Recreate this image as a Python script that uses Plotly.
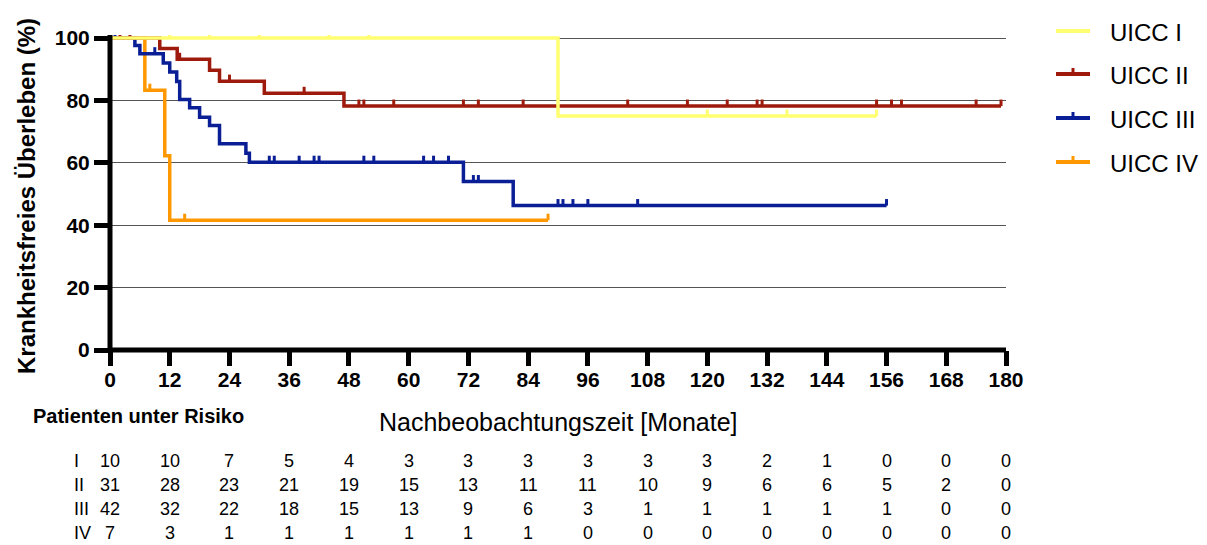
import plotly.graph_objects as go

# ---------------- data ----------------
groups = ["UICC I", "UICC II", "UICC III", "UICC IV"]
row_labels = ["I", "II", "III", "IV"]
colors = ["#FFFF70", "#9E1A0C", "#0A1E96", "#FF9800"]

# event times (months) and survival (%) after each event
events_I = [90]
surv_I = [75.0]
end_I = 154
censor_I = [12, 20, 30, 44, 52, 120, 136, 154]

events_II = [10, 13.5, 20, 22, 31, 47]
surv_II = [96.7, 93.2, 89.7, 86.2, 82.3, 78.2]
end_II = 179
censor_II = [2, 4, 14, 24, 39, 50, 51, 57, 71, 74, 83, 104, 116, 124, 130, 131,
             154, 157, 159, 174, 179]

events_III = [5, 6, 10.7, 12, 13.4, 14, 16, 18, 20, 22, 27.3, 28, 71, 81]
surv_III = [97.6, 95.0, 92.0, 89.1, 86.1, 80.3, 77.7, 74.6, 72.0, 66.1, 63.1, 60.2, 54.0, 46.3]
end_III = 156
censor_III = [1, 9, 32, 33, 38, 41, 42, 51, 53, 63, 65, 68, 73, 74, 90, 91, 93, 96, 106, 156]

events_IV = [7, 11, 12]
surv_IV = [83.3, 62.3, 41.6]
end_IV = 88
censor_IV = [8, 15, 88]

risk_times = [0, 12, 24, 36, 48, 60, 72, 84, 96, 108, 120, 132, 144, 156, 168, 180]
risk_I = [10, 10, 7, 5, 4, 3, 3, 3, 3, 3, 3, 2, 1, 0, 0, 0]
risk_II = [31, 28, 23, 21, 19, 15, 13, 11, 11, 10, 9, 6, 6, 5, 2, 0]
risk_III = [42, 32, 22, 18, 15, 13, 9, 6, 3, 1, 1, 1, 1, 1, 0, 0]
risk_IV = [7, 3, 1, 1, 1, 1, 1, 1, 0, 0, 0, 0, 0, 0, 0, 0]

y_ticks = [0, 20, 40, 60, 80, 100]
x_ticks = list(range(0, 181, 12))

series = [
    (events_I, surv_I, end_I, censor_I),
    (events_II, surv_II, end_II, censor_II),
    (events_III, surv_III, end_III, censor_III),
    (events_IV, surv_IV, end_IV, censor_IV),
]
risks = [risk_I, risk_II, risk_III, risk_IV]

FONT = "Liberation Sans, Arial, Helvetica, sans-serif"
W, H = 1207, 545
L, R, T, B = 110, 201, 35, 195
PW, PH = W - L - R, H - T - B
TICK_H = 2.1  # censor tick height in %


def px(x):
    return (x - L) / PW


def py(y):
    return (H - B - y) / PH


def surv_at(t, ev, sv):
    s = 100.0
    for e, v in zip(ev, sv):
        if t >= e:
            s = v
    return s


fig = go.Figure()

# draw IV, III, II, I so that I is on top
for i in [3, 2, 1, 0]:
    ev, sv, end, cens = series[i]
    xs = [0] + ev + [end]
    ys = [100.0] + sv + [sv[-1]]
    fig.add_trace(go.Scatter(x=xs, y=ys, mode="lines", line=dict(color=colors[i], width=3.5, shape="hv"),
                             showlegend=False, hoverinfo="skip"))
    cx, cy = [], []
    for c in cens:
        s = surv_at(c, ev, sv)
        cx += [c, c, None]
        cy += [s, s + TICK_H, None]
    fig.add_trace(go.Scatter(x=cx, y=cy, mode="lines", line=dict(color=colors[i], width=3),
                             showlegend=False, hoverinfo="skip"))

annotations = []
shapes = []

# thick axis lines
shapes.append(dict(type="line", xref="paper", yref="paper", x0=0, x1=0, y0=py(352), y1=1,
                   line=dict(color="#000", width=5), layer="above"))
shapes.append(dict(type="line", xref="paper", yref="paper", x0=px(108), x1=1, y0=0, y1=0,
                   line=dict(color="#000", width=5), layer="above"))

# legend (manual)
leg_y = [31, 74, 118, 162]
for i, g in enumerate(groups):
    shapes.append(dict(type="line", xref="paper", yref="paper", x0=px(1056), x1=px(1090),
                       y0=py(leg_y[i]), y1=py(leg_y[i]), line=dict(color=colors[i], width=4)))
    if i > 0:
        shapes.append(dict(type="line", xref="paper", yref="paper", x0=px(1073), x1=px(1073),
                           y0=py(leg_y[i]), y1=py(leg_y[i] - 6), line=dict(color=colors[i], width=3)))
    annotations.append(dict(text=g, xref="paper", yref="paper", x=px(1108), y=py(leg_y[i] + 1),
                            xanchor="left", yanchor="middle", showarrow=False,
                            font=dict(family=FONT, size=24, color="#000")))

# axis titles
annotations.append(dict(text="Krankheitsfreies Überleben (%)", xref="paper", yref="paper",
                        x=px(26), y=py(196), textangle=-90, xanchor="center", yanchor="middle",
                        showarrow=False, font=dict(family=FONT, size=24, color="#000", weight="bold")))
annotations.append(dict(text="Nachbeobachtungszeit [Monate]", xref="paper", yref="paper",
                        x=px(558), y=py(422), xanchor="center", yanchor="middle", showarrow=False,
                        font=dict(family=FONT, size=25, color="#000")))
annotations.append(dict(text="Patienten unter Risiko", xref="paper", yref="paper",
                        x=px(31), y=py(416), xanchor="left", yanchor="middle", showarrow=False,
                        font=dict(family=FONT, size=20, color="#000", weight="bold")))

# risk table
row_y = [461, 485, 509, 533]
for r, lab in enumerate(row_labels):
    annotations.append(dict(text=lab, xref="paper", yref="paper", x=px(72), y=py(row_y[r]),
                            xanchor="left", yanchor="middle", showarrow=False,
                            font=dict(family=FONT, size=18, color="#000")))
    for t, n in zip(risk_times, risks[r]):
        annotations.append(dict(text=str(n), xref="x", yref="paper", x=t, y=py(row_y[r]),
                                xanchor="center", yanchor="middle", showarrow=False,
                                font=dict(family=FONT, size=18, color="#000")))

fig.update_layout(
    width=W, height=H, autosize=False,
    margin=dict(l=L, r=R, t=T, b=B, pad=0),
    paper_bgcolor="white", plot_bgcolor="white",
    showlegend=False,
    annotations=annotations, shapes=shapes,
    xaxis=dict(range=[0, 180], tickvals=x_ticks, ticktext=[str(v) for v in x_ticks],
               showgrid=False, zeroline=False, showline=False,
               ticks="outside", ticklen=15, tickwidth=4.5, tickcolor="#000",
               ticklabelstandoff=-4,
               tickfont=dict(family=FONT, size=21, color="#000", weight="bold")),
    yaxis=dict(range=[0, 101], tickvals=y_ticks, ticktext=[str(v) for v in y_ticks],
               showgrid=True, gridcolor="#555555", gridwidth=1, zeroline=False,
               showline=False,
               ticks="outside", ticklen=15, tickwidth=4.5, tickcolor="#000",
               tickfont=dict(family=FONT, size=21, color="#000", weight="bold")),
)

fig.write_html("out.html")
